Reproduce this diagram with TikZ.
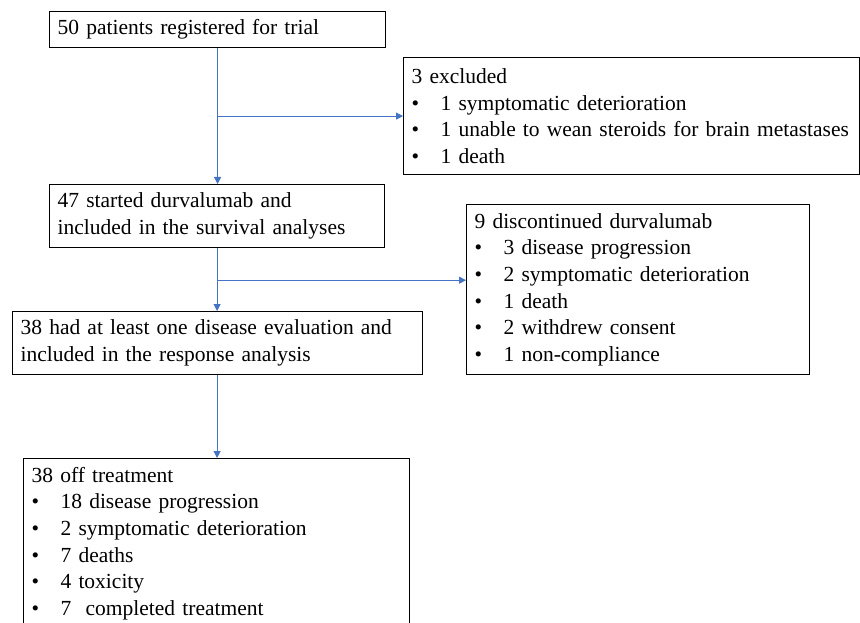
\documentclass[tikz,border=0pt]{standalone}
\usepackage{fontspec}
\setmainfont{Liberation Serif}
\usetikzlibrary{arrows.meta,positioning,calc}
\definecolor{FlowBlue}{RGB}{68,114,196}
\newcommand{\bitem}[1]{\\\makebox[29pt][l]{\textbullet}\mbox{#1}}

\begin{document}
\begin{tikzpicture}[
    x=1pt,y=-1pt,
    box/.style={draw=black, line width=1.2pt, anchor=north west, align=left, inner xsep=8pt, inner ysep=0pt, font=\fontsize{21.5}{26.7}\selectfont},
    flow/.style={draw=FlowBlue, line width=1pt, -{Triangle[length=7pt,width=7pt]}}
  ]
    \clip (0,0) rectangle (860,623);
    \node[box, text width=320pt, minimum height=36pt] (reg) at (49,11) {50 patients registered for trial};
    \node[box, text width=440pt, minimum height=117pt] (excl) at (403,57) {3 excluded
      \bitem{1 symptomatic deterioration}
      \bitem{1 unable to wean steroids for brain metastases}
      \bitem{1 death}};
    \node[box, text width=319pt, minimum height=63pt] (start) at (49,184) {47 started durvalumab and\\included in the survival analyses};
    \node[box, text width=327pt, minimum height=170pt] (disc) at (466,204) {9 discontinued durvalumab
      \bitem{3 disease progression}
      \bitem{2 symptomatic deterioration}
      \bitem{1 death}
      \bitem{2 withdrew consent}
      \bitem{1 non-compliance}};
    \node[box, text width=394pt, minimum height=63pt] (resp) at (12,311) {38 had at least one disease evaluation and\\included in the response analysis};
    \node[box, text width=370pt, minimum height=170pt] (off) at (23,458) {38 off treatment
      \bitem{18 disease progression}
      \bitem{2 symptomatic deterioration}
      \bitem{7 deaths}
      \bitem{4 toxicity}
      \bitem{7\ \ completed treatment}};
    % main flow
    \draw[flow] (reg.south) -- (reg.south |- start.north);
    \draw[flow] (start.south) -- (start.south |- resp.north);
    \draw[flow] (start.south |- resp.south) -- (start.south |- off.north);
    % branches
    \coordinate (br1) at (reg.south |- excl.west);
    \draw[flow] (br1) -- (excl.west);
    \coordinate (br2) at ($(start.south)+(0,32)$);
    \draw[flow] (br2) -- (br2 -| disc.west);
\end{tikzpicture}
\end{document}
